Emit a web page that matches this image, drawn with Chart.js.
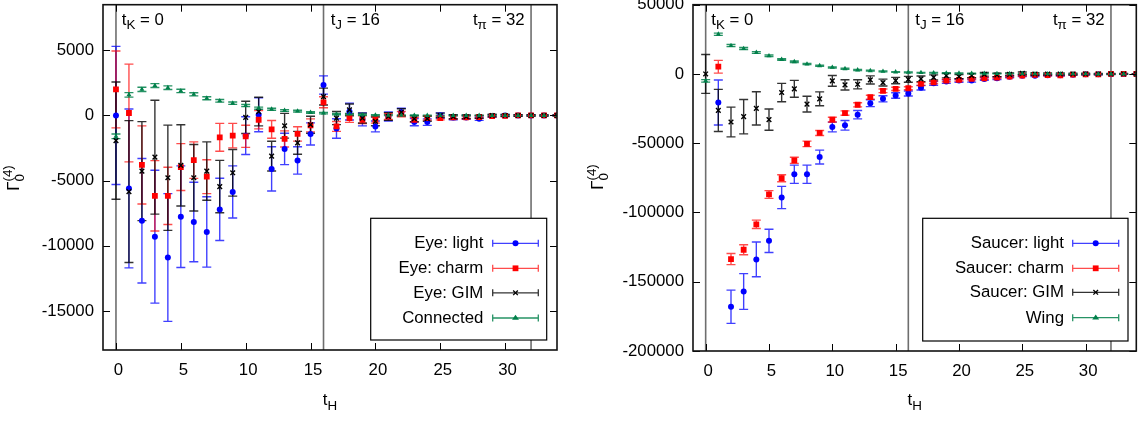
<!DOCTYPE html>
<html><head><meta charset="utf-8">
<script src="https://cdn.jsdelivr.net/npm/chart.js@4.4.1/dist/chart.umd.min.js"></script>
<style>
html,body{margin:0;padding:0;background:#fff;width:1141px;height:423px;overflow:hidden}
#cL{position:absolute;left:0;top:0}
#cR{position:absolute;left:570px;top:0}
</style></head><body>
<canvas id="cL" width="570" height="423"></canvas>
<canvas id="cR" width="571" height="423"></canvas>
<script>
// ---------------- data ----------------
const tH = [0,1,2,3,4,5,6,7,8,9,10,11,12,13,14,15,16,17,18,19,20,21,22,23,24,25,26,27,28,29,30,31,32,33,34];
const xTicks = [0,5,10,15,20,25,30];
const yTicksLeft = [-15000,-10000,-5000,0,5000];
const yTicksRight = [-200000,-150000,-100000,-50000,0,50000];

// Left panel: Eye diagrams + Connected
const eyeLight    = [0,-5600,-8080,-9300,-10900,-7770,-8180,-8940,-7210,-5870,-1550,50,-4100,-2570,-3450,-1420,2340,-1000,300,-300,-840,-80,250,-510,-510,0,-150,-150,-250,-50,0,0,0,0,0];
const eyeLightErr = [5300,6100,4780,5100,4900,3900,3050,2700,2390,2000,1450,1300,1700,1200,1050,850,700,750,650,500,420,350,300,280,250,200,180,150,130,100,80,60,50,40,30];
const eyeCharm    = [2000,190,-3800,-6170,-6170,-3960,-3430,-4700,-1680,-1550,-1600,-330,-1070,-1800,-1420,-760,1010,-840,-200,-330,-330,-80,100,-330,-200,-200,-150,-150,-120,-50,-30,0,0,0,0];
const eyeCharmErr = [2950,3750,3000,2700,2200,1800,1400,1300,1070,940,850,700,680,620,550,500,420,380,330,300,260,230,200,180,160,140,120,100,90,70,60,50,40,30,25];
const eyeGIM      = [-1930,-5840,-4270,-3200,-4780,-3830,-4780,-4270,-5460,-4400,-150,300,-3120,-790,-2100,-710,1450,-200,430,-200,-460,-80,250,-250,-250,0,-100,-100,-100,0,0,0,0,0,0];
const eyeGIMErr   = [4500,5440,3800,4370,4040,3120,2550,2240,2010,1790,1240,1100,1140,950,880,650,650,500,450,380,330,300,260,230,200,180,150,130,110,90,70,60,50,40,30];
const connected   = [-1600,1580,2000,2290,2130,1880,1620,1320,1120,940,760,560,480,380,330,230,180,100,100,50,30,20,10,10,0,0,0,0,0,0,0,0,0,0,0];
const connectedErr= [180,170,160,150,140,130,120,110,100,90,85,80,75,70,65,60,55,50,45,40,35,30,30,25,25,20,20,20,15,15,15,10,10,10,10];

// Right panel: Saucer diagrams + Wing
const saucerLight    = [null,-20580,-168070,-157050,-133860,-120460,-89190,-72420,-72420,-60010,-38290,-37070,-29400,-21080,-17930,-15560,-14120,-10000,-6740,-5520,-4800,-4800,-3590,-3150,-1940,-1220,-1220,-860,-1000,-500,-290,-290,0,0,0];
const saucerLightErr = [0,16250,12000,12900,12500,8400,8000,6600,6600,5000,3500,3500,3000,2500,2200,2000,1800,1600,1400,1300,1200,1100,1000,900,800,700,600,500,450,400,350,300,250,200,150];
const saucerCharm    = [null,5230,-133650,-126900,-108550,-87000,-75290,-62380,-50480,-42590,-32980,-28250,-22230,-16780,-12190,-10760,-10320,-7170,-6020,-4800,-4300,-3590,-3150,-2650,-1940,-1220,-720,-860,-1000,-500,-290,-290,0,0,0];
const saucerCharmErr = [0,4600,4000,3600,3000,2800,2500,2200,2000,1800,1700,1600,1500,1400,1300,1200,1100,1000,900,800,750,700,650,600,550,500,450,400,350,300,250,200,150,120,100];
const saucerGIM      = [0,-26300,-34700,-30830,-24880,-32980,-13410,-10760,-21800,-17930,-5020,-7890,-7460,-4300,-6240,-4800,-3870,-3500,-2440,-1220,-1940,-1220,-290,-720,-290,430,0,0,0,0,0,0,0,0,0];
const saucerGIMErr   = [14000,15200,10750,12400,12000,7700,6600,6100,5700,5000,3900,3700,3300,2900,2500,2300,2100,2000,1800,1600,1500,1400,1300,1200,1100,1000,900,800,700,600,500,400,350,300,250];
const wing           = [-5020,28680,20510,18360,15490,13120,10470,8820,7170,5950,4730,3800,2870,2370,1860,1430,1150,930,800,650,520,420,330,260,200,150,110,80,60,40,30,20,10,5,0];
const wingErr        = [900,800,750,700,650,600,550,500,450,400,380,360,340,320,300,280,260,240,220,200,180,160,140,120,100,90,80,70,60,50,40,30,30,20,20];

const labelsLeft  = ['Eye: light','Eye: charm','Eye: GIM','Connected'];
const labelsRight = ['Saucer: light','Saucer: charm','Saucer: GIM','Wing'];

// ---------------- styling ----------------
const FONT = '"Liberation Sans", Arial, Helvetica, sans-serif';
const FS = 16.8;
const STY = [
  {pointStyle:'circle',   radius:3.0, color:'#0000ff', err:'rgba(0,0,255,0.75)'},
  {pointStyle:'rect',     radius:4.1, color:'#ff0000', err:'rgba(255,0,0,0.7)'},
  {pointStyle:'crossRot', radius:3.3, color:'#000000', err:'rgba(0,0,0,0.8)'},
  {pointStyle:'triangle', radius:2.9, color:'#00804a', err:'rgba(0,128,74,0.85)'}
];

function pts(vals, errs){
  const out=[];
  tH.forEach((t,i)=>{ if(vals[i]!==null && vals[i]!==undefined) out.push({x:t,y:vals[i],e:errs[i]}); });
  return out;
}
function makeDatasets(series, labels){
  return series.map((s,i)=>{
    const st=STY[i];
    return {
      label: labels[i], data: pts(s[0],s[1]), errColor: st.err,
      pointStyle: st.pointStyle, pointRadius: st.radius, pointHoverRadius: st.radius,
      backgroundColor: st.color, borderColor: st.color,
      pointBorderWidth: st.pointStyle==='crossRot'?1.4:0,
      showLine:false, order: 3-i
    };
  });
}

function drawRich(ctx, parts, x, y, align){
  let w=0;
  const fontFor = m => (m===0? FS : 13.4)+'px '+FONT;
  parts.forEach(([t,m])=>{ctx.font=fontFor(m); w+=ctx.measureText(t).width;});
  let cx = align==='left'?x:(align==='right'?x-w:x-w/2);
  parts.forEach(([t,m])=>{
    ctx.font=fontFor(m);
    ctx.fillText(t,cx,y+(m===1?4.5:(m===2?-7:0)));
    cx+=ctx.measureText(t).width;
  });
}

function drawMarker(ctx, st, x, y){
  ctx.save();
  ctx.fillStyle=st.color; ctx.strokeStyle=st.color;
  ctx.beginPath();
  const r=st.radius;
  if(st.pointStyle==='circle'){ctx.arc(x,y,r,0,Math.PI*2);ctx.fill();}
  else if(st.pointStyle==='rect'){const s=r*Math.SQRT1_2;ctx.rect(x-s,y-s,2*s,2*s);ctx.fill();}
  else if(st.pointStyle==='crossRot'){const s=r*Math.SQRT1_2;ctx.lineWidth=1.3;ctx.moveTo(x-s,y-s);ctx.lineTo(x+s,y+s);ctx.moveTo(x-s,y+s);ctx.lineTo(x+s,y-s);ctx.stroke();}
  else {const s=r*1.4;ctx.moveTo(x,y-s*0.8);ctx.lineTo(x+s*0.85,y+s*0.45);ctx.lineTo(x-s*0.85,y+s*0.45);ctx.closePath();ctx.fill();}
  ctx.restore();
}

const decor = {
  id:'decor',
  beforeDatasetsDraw(chart, args, o){
    const {ctx, chartArea:a, scales:{x,y}} = chart;
    ctx.save();
    ctx.beginPath(); ctx.rect(a.left,a.top,a.right-a.left,a.bottom-a.top); ctx.clip();
    // vertical marker lines
    ctx.strokeStyle='#6e6e6e'; ctx.lineWidth=1.6;
    o.vlines.forEach(v=>{const px=x.getPixelForValue(v); ctx.beginPath(); ctx.moveTo(px,a.top); ctx.lineTo(px,a.bottom); ctx.stroke();});
    // error bars
    const cap=4.5;
    chart.data.datasets.forEach(ds=>{
      ctx.strokeStyle=ds.errColor; ctx.lineWidth=1.4;
      ds.data.forEach(p=>{
        const px=x.getPixelForValue(p.x), y1=y.getPixelForValue(p.y+p.e), y2=y.getPixelForValue(p.y-p.e);
        ctx.beginPath();
        ctx.moveTo(px,y1); ctx.lineTo(px,y2);
        ctx.moveTo(px-cap,y1); ctx.lineTo(px+cap,y1);
        ctx.moveTo(px-cap,y2); ctx.lineTo(px+cap,y2);
        ctx.stroke();
      });
    });
    ctx.restore();
  },
  afterDraw(chart, args, o){
    const {ctx, chartArea:a, scales:{x,y}} = chart;
    ctx.save();
    // ticks (inward, mirrored)
    ctx.strokeStyle='#000'; ctx.lineWidth=1;
    const TL=7;
    o.xticks.forEach(v=>{const px=Math.round(x.getPixelForValue(v))+0.5; ctx.beginPath(); ctx.moveTo(px,a.bottom); ctx.lineTo(px,a.bottom-TL); ctx.moveTo(px,a.top); ctx.lineTo(px,a.top+TL); ctx.stroke();});
    o.yticks.forEach(v=>{const py=Math.round(y.getPixelForValue(v))+0.5; ctx.beginPath(); ctx.moveTo(a.left,py); ctx.lineTo(a.left+TL,py); ctx.moveTo(a.right,py); ctx.lineTo(a.right-TL,py); ctx.stroke();});
    // frame
    ctx.lineWidth=1.6; ctx.strokeStyle='#111';
    ctx.strokeRect(a.left,a.top,a.right-a.left,a.bottom-a.top);
    // text labels in plot
    ctx.fillStyle='#000'; ctx.textBaseline='alphabetic';
    o.labels.forEach(l=>drawRich(ctx,l.parts,x.getPixelForValue(l.x),a.top+20,l.align));
    // legend
    const L=o.legend;
    ctx.fillStyle='#fff'; ctx.fillRect(L.box[0],L.box[1],L.box[2]-L.box[0],L.box[3]-L.box[1]);
    ctx.strokeStyle='#000'; ctx.lineWidth=1.2;
    ctx.strokeRect(L.box[0],L.box[1],L.box[2]-L.box[0],L.box[3]-L.box[1]);
    chart.data.datasets.forEach((ds,i)=>{
      const yy=L.ys[i];
      ctx.fillStyle='#000'; ctx.font=FS+'px '+FONT; ctx.textAlign='right'; ctx.textBaseline='middle';
      ctx.fillText(ds.label,L.textX,yy+0.5);
      ctx.strokeStyle=ds.errColor; ctx.lineWidth=1.3;
      ctx.beginPath();
      ctx.moveTo(L.sx1,yy); ctx.lineTo(L.sx2,yy);
      ctx.moveTo(L.sx1,yy-3.5); ctx.lineTo(L.sx1,yy+3.5);
      ctx.moveTo(L.sx2,yy-3.5); ctx.lineTo(L.sx2,yy+3.5);
      ctx.stroke();
      drawMarker(ctx,STY[i],(L.sx1+L.sx2)/2,yy);
    });
    ctx.textAlign='left'; ctx.textBaseline='alphabetic'; ctx.fillStyle='#000';
    // x title t_H
    drawRich(ctx,[['t',0],['H',1]],(a.left+a.right)/2,o.xtitleY,'center');
    // y title Gamma_0^(4), rotated
    ctx.translate(o.ytitleX,o.ytitleY); ctx.rotate(-Math.PI/2);
    ctx.font=FS+'px '+FONT;
    const gw=ctx.measureText('\u0393').width;
    ctx.font='13.4px '+FONT;
    const sw=Math.max(ctx.measureText('(4)').width, ctx.measureText('0').width);
    let cx=-(gw+sw)/2;
    ctx.font=FS+'px '+FONT; ctx.fillText('\u0393',cx,0);
    ctx.font='13.4px '+FONT; ctx.fillText('(4)',cx+gw,-7); ctx.fillText('0',cx+gw,4.5);
    ctx.restore();
  }
};

function makeChart(id, datasets, opts){
  return new Chart(document.getElementById(id), {
    type:'scatter',
    data:{datasets},
    plugins:[decor],
    options:{
      responsive:false, animation:false, devicePixelRatio:1,
      layout:{padding:{top:3,left:0,right:opts.padRight,bottom:0}},
      plugins:{legend:{display:false}, tooltip:{enabled:false}, decor:opts.decor},
      scales:{
        x:{type:'linear', min:-1, max:34,
           afterBuildTicks:s=>{s.ticks=xTicks.map(v=>({value:v}));},
           afterFit:s=>{s.height=opts.xHeight; s.paddingLeft=0; s.paddingRight=0;},
           grid:{display:false, drawTicks:false}, border:{display:false},
           ticks:{color:'#000', font:{family:FONT,size:FS}, padding:10, labelOffset:2.5, maxRotation:0, autoSkip:false, callback:v=>String(v)}},
        y:{type:'linear', min:opts.yMin, max:opts.yMax,
           afterBuildTicks:s=>{s.ticks=opts.yticks.map(v=>({value:v}));},
           afterFit:s=>{s.width=opts.yWidth; s.paddingTop=0; s.paddingBottom=0;},
           grid:{display:false, drawTicks:false}, border:{display:false},
           ticks:{color:'#000', font:{family:FONT,size:FS}, padding:9, autoSkip:false, callback:v=>String(v)}}
      }
    }
  });
}

makeChart('cL', makeDatasets([[eyeLight,eyeLightErr],[eyeCharm,eyeCharmErr],[eyeGIM,eyeGIMErr],[connected,connectedErr]], labelsLeft), {
  padRight:13, xHeight:73, yWidth:103, yMin:-18000, yMax:8500, yticks:yTicksLeft,
  decor:{
    vlines:[0,16,32], xticks:xTicks, yticks:yTicksLeft,
    labels:[
      {x:0.45, align:'left', parts:[['t',0],['K',1],[' = 0',0]]},
      {x:16.55, align:'left', parts:[['t',0],['J',1],[' = 16',0]]},
      {x:31.5, align:'right', parts:[['t',0],['\u03c0',1],[' = 32',0]]}
    ],
    legend:{box:[370.7,218.3,546.7,340], textX:483.3, sx1:492.7, sx2:538.3, ys:[243.3,268.3,292.8,318]},
    xtitleY:405, ytitleX:19, ytitleY:178
  }
});

makeChart('cR', makeDatasets([[saucerLight,saucerLightErr],[saucerCharm,saucerCharmErr],[saucerGIM,saucerGIMErr],[wing,wingErr]], labelsRight), {
  padRight:4, xHeight:72, yWidth:123, yMin:-200000, yMax:50000, yticks:yTicksRight,
  decor:{
    vlines:[0,16,32], xticks:xTicks, yticks:yTicksRight,
    labels:[
      {x:0.45, align:'left', parts:[['t',0],['K',1],[' = 0',0]]},
      {x:16.55, align:'left', parts:[['t',0],['J',1],[' = 16',0]]},
      {x:31.5, align:'right', parts:[['t',0],['\u03c0',1],[' = 32',0]]}
    ],
    legend:{box:[352.7,218.3,558,341], textX:494, sx1:502.7, sx2:548.7, ys:[243.3,268.3,292.3,317.7]},
    xtitleY:405, ytitleX:33, ytitleY:177
  }
});
</script>
</body></html>
